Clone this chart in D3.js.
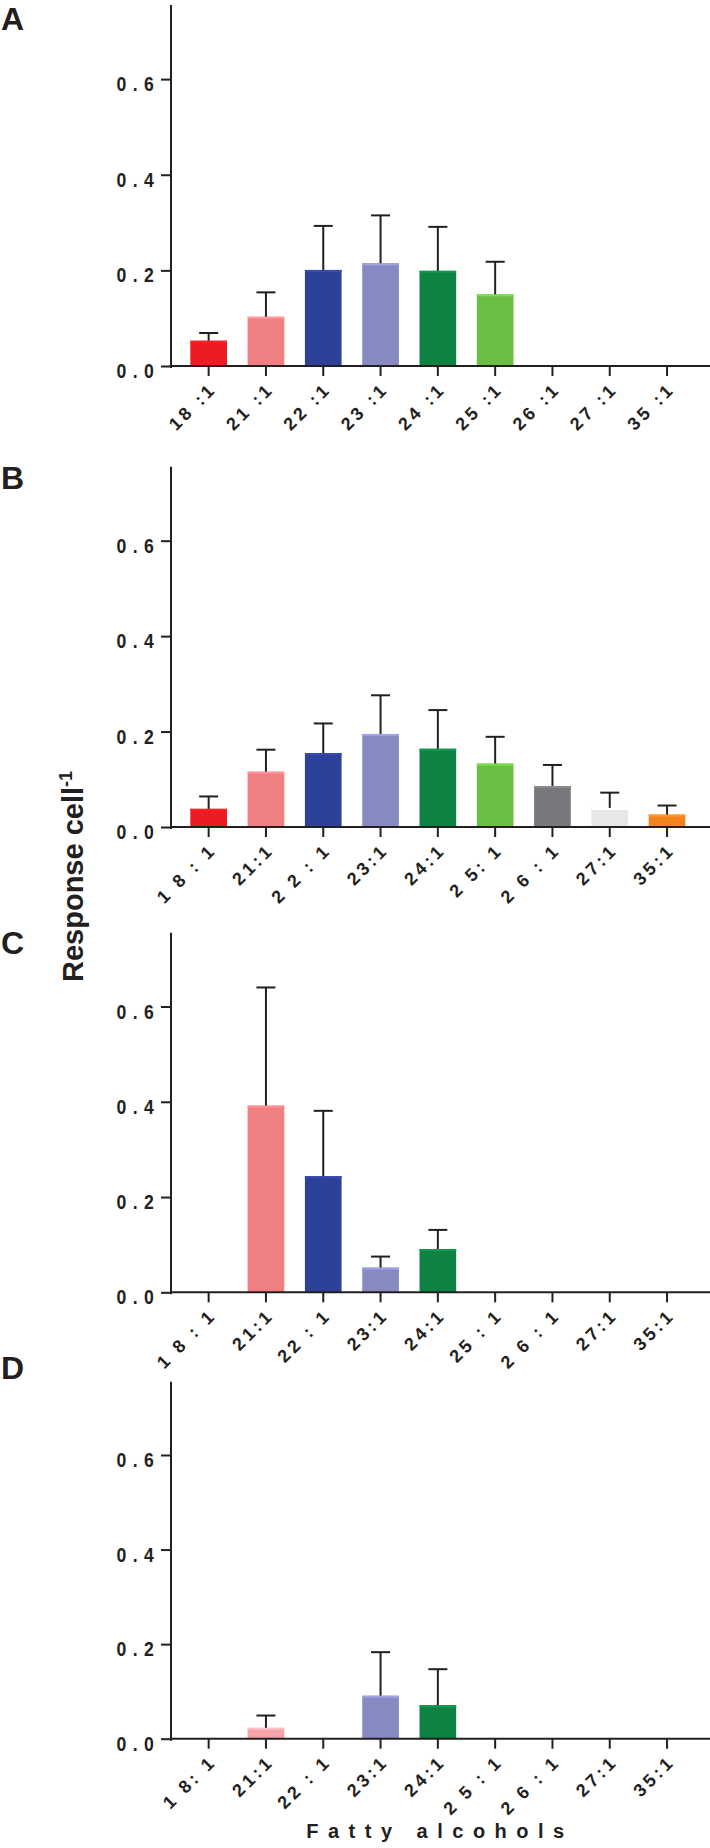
<!DOCTYPE html>
<html>
<head>
<meta charset="utf-8">
<script src="https://cdn.jsdelivr.net/npm/d3@7/dist/d3.min.js"></script>
<style>
  html, body { margin: 0; padding: 0; background: #fff; }
  svg { display: block; }
</style>
</head>
<body>
<svg id="chart" width="710" height="1848"></svg>
<script>
// ---------- data ----------
const categories = ["18:1", "21:1", "22:1", "23:1", "24:1", "25:1", "26:1", "27:1", "35:1"];
const barColors = ["#ED1C24", "#F07F82", "#2E4198", "#878AC1", "#0E8242", "#6CBD45", "#77787B", "#E6E7E8", "#F4831F"];
const barColorsD = ["#ED1C24", "#F4A3A7", "#2E4198", "#878AC1", "#0E8242", "#6CBD45", "#77787B", "#E6E7E8", "#F4831F"];

const panelLetters = ["A", "B", "C", "D"];

const meanA = [0.053, 0.103, 0.201, 0.215, 0.199, 0.150, 0, 0, 0];
const errA  = [0.016, 0.051, 0.092, 0.100, 0.092, 0.068, 0, 0, 0];
const meanB = [0.038, 0.116, 0.155, 0.195, 0.164, 0.133, 0.086, 0.040, 0.026];
const errB  = [0.026, 0.046, 0.062, 0.081, 0.081, 0.056, 0.044, 0.032, 0.019];
const meanC = [0, 0.392, 0.244, 0.052, 0.091, 0, 0, 0, 0];
const errC  = [0, 0.248, 0.137, 0.023, 0.040, 0, 0, 0, 0];
const meanD = [0, 0.023, 0, 0.091, 0.071, 0, 0, 0, 0];
const errD  = [0, 0.026, 0, 0.092, 0.076, 0, 0, 0, 0];

const labelsA = ["18 :1", "21 :1", "22 :1", "23 :1", "24 :1", "25 :1", "26 :1", "27 :1", "35 :1"];
const labelsB = ["1 8 : 1", "21:1", "2 2 : 1", "23:1", "24:1", "2 5: 1", "2 6 : 1", "27:1", "35:1"];
const labelsC = ["1 8 : 1", "21:1", "22 : 1", "23:1", "24:1", "25 : 1", "2 6 : 1", "27:1", "35:1"];
const labelsD = ["1 8: 1", "21:1", "22 : 1", "23:1", "24:1", "2 5 : 1", "2 6 : 1", "27:1", "35:1"];

const yTicks = [0, 0.2, 0.4, 0.6];
const yMax = 0.755;

const yTitle = "Response cell";
const yTitleSup = "-1";
const xTitle = "Fatty alcohols";

// ---------- layout ----------
const ink = "#231F20";
const axisLeft = 171, axisRight = 710;
const panelZero = [366, 827, 1292.3, 1738.7];
const panelTop = [5, 466.7, 932.7, 1381.7];
const letterBaseline = [30, 489, 954, 1379];

const panels = [
  { mean: meanA, err: errA, labels: labelsA, colors: barColors },
  { mean: meanB, err: errB, labels: labelsB, colors: barColors },
  { mean: meanC, err: errC, labels: labelsC, colors: barColors },
  { mean: meanD, err: errD, labels: labelsD, colors: barColorsD }
];

const svg = d3.select("#chart");

const x = d3.scaleBand()
  .domain(categories)
  .range([180, 695.7])
  .paddingInner(0.36)
  .paddingOuter(0.18);

panels.forEach((p, i) => {
  const y = d3.scaleLinear().domain([0, yMax]).range([panelZero[i], panelTop[i]]);
  const g = svg.append("g");

  // panel letter
  g.append("text")
    .attr("x", 1).attr("y", letterBaseline[i])
    .attr("font-family", "Liberation Sans, Arial, sans-serif")
    .attr("font-weight", "bold").attr("font-size", 32)
    .attr("fill", ink)
    .text(panelLetters[i]);

  // bars
  const rows = categories.map((c, k) => ({ c, m: p.mean[k], e: p.err[k], col: p.colors[k] }))
    .filter(d => d.m > 0);

  g.selectAll("rect.bar").data(rows).enter().append("rect")
    .attr("class", "bar")
    .attr("x", d => x(d.c))
    .attr("y", d => y(d.m))
    .attr("width", x.bandwidth())
    .attr("height", d => y(0) - y(d.m))
    .attr("fill", d => d.col);

  g.selectAll("line.top").data(rows).enter().append("line")
    .attr("x1", d => x(d.c)).attr("x2", d => x(d.c) + x.bandwidth())
    .attr("y1", d => y(d.m) + 1).attr("y2", d => y(d.m) + 1)
    .attr("stroke", d => d3.color(d.col).brighter(0.45))
    .attr("stroke-width", 2);

  // error bars
  const errRows = rows.filter(d => d.e > 0);
  g.selectAll("line.err").data(errRows).enter().append("line")
    .attr("x1", d => x(d.c) + x.bandwidth() / 2)
    .attr("x2", d => x(d.c) + x.bandwidth() / 2)
    .attr("y1", d => y(d.m))
    .attr("y2", d => y(d.m + d.e))
    .attr("stroke", ink).attr("stroke-width", 2);
  g.selectAll("line.cap").data(errRows).enter().append("line")
    .attr("x1", d => x(d.c) + x.bandwidth() / 2 - 9.5)
    .attr("x2", d => x(d.c) + x.bandwidth() / 2 + 9.5)
    .attr("y1", d => y(d.m + d.e))
    .attr("y2", d => y(d.m + d.e))
    .attr("stroke", ink).attr("stroke-width", 2);

  // y axis
  const yAxis = d3.axisLeft(y).tickValues(yTicks).tickSize(10).tickSizeOuter(0)
    .tickFormat(d3.format(".1f"));
  const ya = g.append("g").attr("transform", `translate(${axisLeft},0)`).call(yAxis);
  ya.select(".domain").remove();
  ya.selectAll(".tick line").attr("stroke", ink).attr("stroke-width", 2);
  ya.selectAll(".tick text")
    .attr("x", 0).attr("dy", null).attr("y", 0)
    .attr("text-anchor", "end")
    .attr("font-family", "Liberation Sans, Arial, sans-serif")
    .attr("font-weight", "bold").attr("font-size", 21)
    .attr("letter-spacing", "7.5px")
    .attr("fill", ink)
    .attr("transform", "translate(-11,11.5) scale(0.84,1)");
  g.append("line")
    .attr("x1", axisLeft).attr("x2", axisLeft)
    .attr("y1", panelTop[i]).attr("y2", panelZero[i] + 2)
    .attr("stroke", ink).attr("stroke-width", 2);

  // x axis
  const xAxis = d3.axisBottom(x).tickSize(10).tickSizeOuter(0)
    .tickFormat((d, k) => p.labels[k]);
  const xa = g.append("g").attr("transform", `translate(0,${panelZero[i]})`).call(xAxis);
  xa.select(".domain").remove();
  xa.selectAll(".tick line").attr("stroke", ink).attr("stroke-width", 2);
  xa.selectAll(".tick text")
    .attr("y", 0).attr("dy", null)
    .attr("text-anchor", "end")
    .attr("transform", "translate(9,24) rotate(-45)")
    .attr("font-family", "Liberation Sans, Arial, sans-serif")
    .attr("font-weight", "bold").attr("font-size", 18)
    .attr("letter-spacing", "3.5px")
    .attr("fill", ink)
    .style("white-space", "pre");
  g.append("line")
    .attr("x1", axisLeft - 1).attr("x2", axisRight)
    .attr("y1", panelZero[i]).attr("y2", panelZero[i])
    .attr("stroke", ink).attr("stroke-width", 2);
});

// y title
const yt = svg.append("text")
  .attr("transform", "translate(82.7,982) rotate(-90)")
  .attr("font-family", "Liberation Sans, Arial, sans-serif")
  .attr("font-weight", "bold").attr("font-size", 29)
  .attr("fill", ink);
yt.append("tspan").text(yTitle);
yt.append("tspan").attr("dy", -11).attr("font-size", 18).text(yTitleSup);

// x title
svg.append("text")
  .attr("x", 435 + 5).attr("y", 1838)
  .attr("text-anchor", "middle")
  .attr("font-family", "Liberation Sans, Arial, sans-serif")
  .attr("font-weight", "bold").attr("font-size", 20)
  .attr("letter-spacing", "9.5px")
  .attr("fill", ink)
  .text(xTitle);
</script>
</body>
</html>
